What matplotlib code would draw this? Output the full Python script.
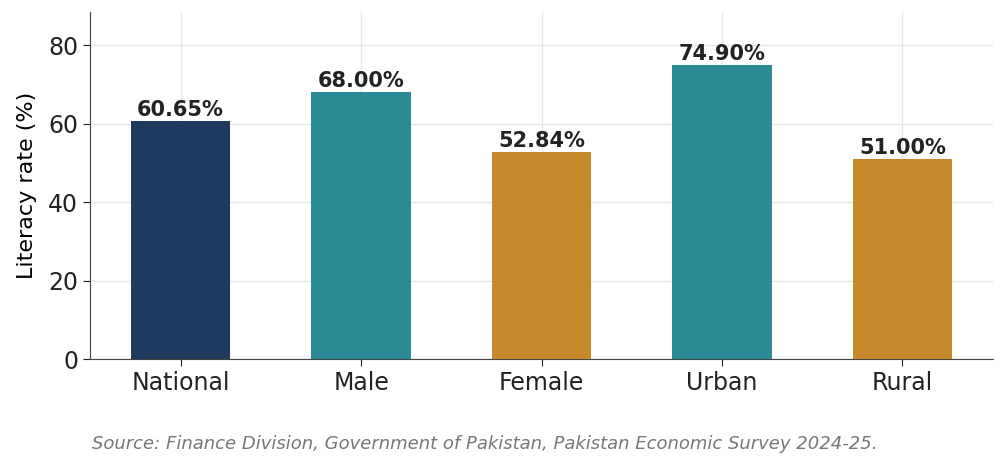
import matplotlib
matplotlib.use("Agg")
import matplotlib.pyplot as plt

# Literacy rates, Pakistan Economic Survey 2024-25
categories = ["National", "Male", "Female", "Urban", "Rural"]
literacy = [60.65, 68.00, 52.84, 74.90, 51.00]
bar_colors = ["#1f3a5f", "#2a8a96", "#c8892c", "#2a8a96", "#c8892c"]

fig = plt.figure(figsize=(10, 4.67), dpi=100)
ax = fig.add_axes([0.09, 0.231, 0.903, 0.743])

bars = ax.bar(categories, literacy, width=0.55, color=bar_colors, zorder=3)
for rect, val in zip(bars, literacy):
    ax.text(rect.get_x() + rect.get_width() / 2, val + 0.2, f"{val:.2f}%",
            ha="center", va="bottom", fontsize=15, fontweight="bold", color="#222222")

ax.set_ylim(0, 88.4)
ax.set_yticks([0, 20, 40, 60, 80])
ax.set_ylabel("Literacy rate (%)", fontsize=16, labelpad=8)
ax.tick_params(axis="both", labelsize=17, colors="#222222", length=5)
ax.grid(True, color="#e6e6e6", linewidth=1, zorder=0)
for side in ["top", "right"]:
    ax.spines[side].set_visible(False)
for side in ["left", "bottom"]:
    ax.spines[side].set_color("#444444")

fig.text(0.092, 0.05, "Source: Finance Division, Government of Pakistan, Pakistan Economic Survey 2024-25.",
         fontsize=13, style="italic", color="#777777", ha="left", va="center")

fig.savefig("out.png", dpi=100)
